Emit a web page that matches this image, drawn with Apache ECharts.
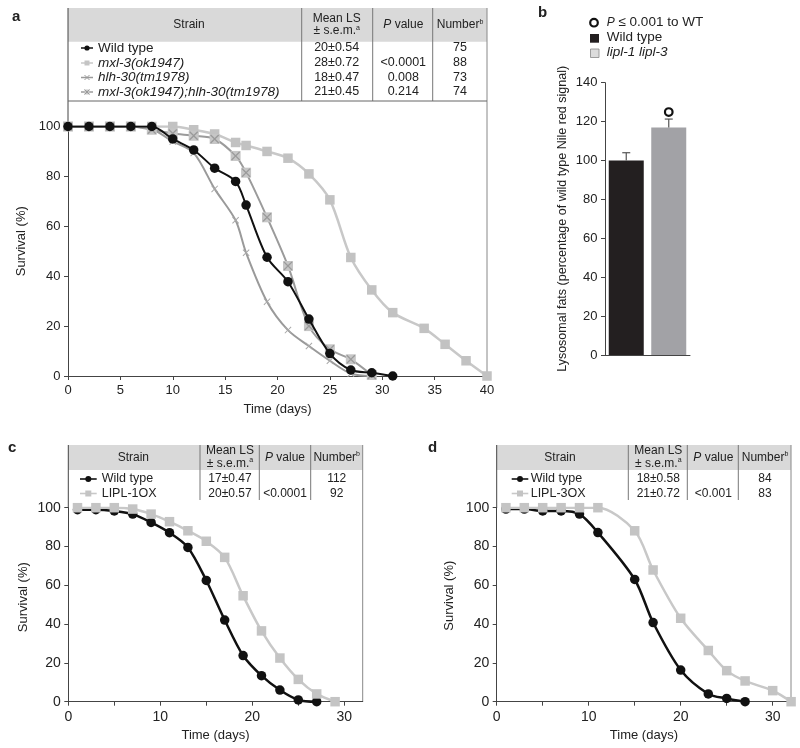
<!DOCTYPE html>
<html><head><meta charset="utf-8">
<script src="https://cdn.jsdelivr.net/npm/echarts@6/dist/echarts.min.js"></script>
<style>html,body{margin:0;padding:0;background:#fff}#c{width:800px;height:748px}</style>
</head><body><div id="c"></div>
<script>
// ---------- DATA ----------
// Panel a
const aDaysWT  = [0,2,4,6,8,10,12,14,16,17,19,21,23,25,27,29,31];
const aWT      = [100,100,100,100,100,95,90.6,83.3,78,68.5,47.6,37.8,22.8,9,2.4,1.3,0];
const aDaysMxl = [0,2,4,6,8,10,12,14,16,17,19,21,23,25,27,29,31,34,36,38,40];
const aMxl     = [100,100,100,100,100,100,98.7,97,93.6,92.4,90,87.3,81,70.6,47.5,34.5,25.4,19.1,12.7,6.1,0];
const aDaysHlh = [0,2,4,6,8,10,12,14,16,17,19,21,23,25,27,29];
const aHlh     = [100,100,100,100,99,94,89.4,75,62.4,49.4,29.8,18.4,12,6.1,1,0];
const aDaysDbl = [0,2,4,6,8,10,12,14,16,17,19,21,23,25,27,29];
const aDbl     = [100,100,100,100,98.7,97.2,96.3,95,88.2,81.5,63.6,44.1,20,10.7,6.7,0.4];
const aXTicks  = [0,5,10,15,20,25,30,35,40];
const aYTicks  = [0,20,40,60,80,100];
const aTableRows = [
  ['Wild type','20±0.54','','75'],
  ['mxl-3(ok1947)','28±0.72','<0.0001','88'],
  ['hlh-30(tm1978)','18±0.47','0.008','73'],
  ['mxl-3(ok1947);hlh-30(tm1978)','21±0.45','0.214','74']
];
// Panel b
const bCats = ['Wild type','lipl-1 lipl-3'];
const bVals = [100,117];
const bErr  = [4,4.3];
const bSig  = [false,true];
const bYTicks = [0,20,40,60,80,100,120,140];
// Panel c
const cDaysWT = [1,3,5,7,9,11,13,15,17,19,21,23,25,27];
const cWT     = [99,99,98.3,96.7,92.4,87.1,79.5,62.5,42.1,23.8,13.4,6,0.9,0];
const cDaysOX = [1,3,5,7,9,11,13,15,17,19,21,23,25,27,29];
const cOX     = [100,100,100,99.3,96.7,92.8,88.1,82.7,74.4,54.6,36.5,22.5,11.5,4,0];
const cTableRows = [['Wild type','17±0.47','','112'],['LIPL-1OX','20±0.57','<0.0001','92']];
// Panel d
const dDaysWT = [1,3,5,7,9,11,15,17,20,23,25,27];
const dWT     = [99.3,99.3,98.3,98.3,96.7,87.2,63,40.8,16.3,4,1.7,0];
const dDaysOX = [1,3,5,7,9,11,15,17,20,23,25,27,30,32];
const dOX     = [100,100,100,100,100,100,88.1,67.9,43,26.4,16,10.7,5.7,0];
const dTableRows = [['Wild type','18±0.58','','84'],['LIPL-3OX','21±0.72','<0.001','83']];
const cdXTicks  = [0,5,10,15,20,25,30];
const cdXLabels = [0,10,20,30];
const cdYTicks  = [0,20,40,60,80,100];

// ---------- STYLE ----------
const FONT = '"Liberation Sans", Arial, Helvetica, sans-serif';
const TXT = '#222';
const AX = '#444';
const XPATH = 'path://M0,1 L1,0 L5,4 L9,0 L10,1 L6,5 L10,9 L9,10 L5,6 L1,10 L0,9 L4,5 Z';
const zip = (xs, ys) => xs.map((x,i)=>[x, ys[i]]);

// ---------- GRAPHIC (tables, legends, labels) ----------
const G = [];
function gLine(x1,y1,x2,y2,c,w){G.push({type:'line',silent:true,shape:{x1,y1,x2,y2},style:{stroke:c||'#777',lineWidth:w||1}});}
function gRect(x,y,w,h,fill,stroke,lw){G.push({type:'rect',silent:true,shape:{x,y,width:w,height:h},style:{fill:fill,stroke:stroke||null,lineWidth:lw||1}});}
function gCircle(cx,cy,r,fill,stroke,lw){G.push({type:'circle',silent:true,shape:{cx,cy,r},style:{fill:fill,stroke:stroke||null,lineWidth:lw||1}});}
function gX(cx,cy,s,c,lw){gLine(cx-s,cy-s,cx+s,cy+s,c,lw);gLine(cx-s,cy+s,cx+s,cy-s,c,lw);}
const RICH = {
  i:{fontStyle:'italic',fontFamily:FONT,fill:TXT},
  sup:{fontSize:7,fontFamily:FONT,fill:TXT,padding:[0,0,6,0]}
};
function gText(x,y,t,size,opts){
  G.push({type:'text',silent:true,x,y,style:Object.assign({text:t,fontSize:size||12,fontFamily:FONT,fill:TXT,align:'center',verticalAlign:'middle',rich:RICH},opts||{})});
}

function table(cfg){
  const {x0,x1,yTop,yHead,yEnd,cols,centers,rows,rowY,fs,rowFs,numFs,glyph,italicRows,bottomLine} = cfg;
  gRect(x0,yTop,x1-x0,yHead-yTop,'#d9d9d9');
  cols.forEach(cx=>gLine(cx,yTop,cx,yEnd,'#777',1));
  gLine(x0,yTop,x0,cfg.leftEnd,AX,1);
  gLine(x1,yTop,x1,cfg.rightEnd,'#888',1);
  if(bottomLine) gLine(x0,yEnd,x1,yEnd,'#666',1);
  const hm = (yTop+yHead)/2;
  gText(centers[0],hm,'Strain',fs);
  gText(centers[1],hm-6.5,'Mean LS',fs);
  gText(centers[1],hm+6,'± s.e.m.{sup|a}',fs);
  gText(centers[2],hm,'{i|P} value',fs);
  gText(centers[3],hm,'Number{sup|b}',fs);
  rows.forEach((r,i)=>{
    const y=rowY[i];
    glyph(i,y);
    gText(cfg.nameX,y,r[0],rowFs,{align:'left',fontStyle:(italicRows&&italicRows[i])?'italic':'normal'});
    gText(centers[1],y,r[1],numFs);
    if(r[2]) gText(centers[2],y,r[2],numFs);
    gText(centers[3],y,r[3],numFs);
  });
}

// Panel a table
table({x0:68,x1:487,yTop:8,yHead:41.7,yEnd:101,leftEnd:127,rightEnd:376,cols:[301.7,372.7,432.7],
  centers:[189,336.7,403.3,460],rows:aTableRows,rowY:[48,63,77.5,92],fs:12,rowFs:13.5,numFs:12.5,
  nameX:98,italicRows:[false,true,true,true],bottomLine:true,
  glyph:(i,y)=>{
    if(i===0){gLine(81,y,93,y,'#111',1.5);gCircle(87,y,2.6,'#111');}
    if(i===1){gLine(81,y,93,y,'#c8c8c8',1.5);gRect(84.5,y-2.5,5,5,'#c4c4c4');}
    if(i===2){gLine(81,y,93,y,'#9a9a9a',1.5);gX(87,y,2.5,'#9a9a9a',1);}
    if(i===3){gLine(81,y,93,y,'#9b9b9b',1.5);gRect(84.5,y-2.5,5,5,'#c8c8c8');gX(87,y,2.5,'#999',1);}
  }});
// Panel c table
table({x0:68.3,x1:362.7,yTop:445,yHead:470,yEnd:500,leftEnd:508,rightEnd:701.7,cols:[200,259.3,310.7],
  centers:[133.3,230,285,336.7],rows:cTableRows,rowY:[479,493.5],fs:12,rowFs:12.5,numFs:12,
  nameX:101.7,bottomLine:false,
  glyph:(i,y)=>{
    if(i===0){gLine(80,y,96.7,y,'#111',1.6);gCircle(88.3,y,3,'#111');}
    else {gLine(80,y,96.7,y,'#c8c8c8',1.6);gRect(85.3,y-3,6,6,'#c4c4c4');}
  }});
// Panel d table
table({x0:496.7,x1:791,yTop:445,yHead:470,yEnd:500,leftEnd:508,rightEnd:701.7,cols:[628.3,687.3,738.3],
  centers:[560,658.3,713.3,765],rows:dTableRows,rowY:[479,493.5],fs:12,rowFs:12.5,numFs:12,
  nameX:530.7,bottomLine:false,
  glyph:(i,y)=>{
    if(i===0){gLine(511.7,y,528.3,y,'#111',1.6);gCircle(520,y,3,'#111');}
    else {gLine(511.7,y,528.3,y,'#c8c8c8',1.6);gRect(517,y-3,6,6,'#c4c4c4');}
  }});

// Panel b legend
gCircle(594,22.7,3.8,'#fff','#111',2.2);
gText(606.7,22.7,'{i|P} ≤ 0.001 to WT',13.5,{align:'left'});
gRect(590,34,9,8.7,'#231f20');
gText(606.7,37.7,'Wild type',13.5,{align:'left'});
gRect(590.5,49,8.5,8.5,'#dcdcdc','#888',0.8);
gText(606.7,52.3,'lipl-1 lipl-3',13.5,{align:'left',fontStyle:'italic'});

// Panel letters
gText(12,17,'a',15,{align:'left',fontWeight:'bold'});
gText(538,12.5,'b',15,{align:'left',fontWeight:'bold'});
gText(8,448,'c',15,{align:'left',fontWeight:'bold'});
gText(428,448,'d',15,{align:'left',fontWeight:'bold'});

// ---------- AXES ----------
function valX(grid,min,max,ticks,labels,fs,name){
  return {gridIndex:grid,type:'value',min,max,
    axisLine:{lineStyle:{color:AX,width:1}},
    axisTick:{length:4,lineStyle:{color:AX},customValues:ticks},
    axisLabel:{fontSize:fs,color:TXT,margin:8,fontFamily:FONT,customValues:labels},
    splitLine:{show:false},
    name,nameLocation:'middle',nameGap:27,nameTextStyle:{fontSize:13,color:TXT,fontFamily:FONT}};
}
function valY(grid,min,max,ticks,fs,name,gap,shift,nfs){
  return {gridIndex:grid,type:'value',min,max,
    axisLine:{show:true,lineStyle:{color:AX,width:1}},
    axisTick:{show:true,length:4,lineStyle:{color:AX},customValues:ticks},
    axisLabel:{fontSize:fs,color:TXT,margin:7.5,fontFamily:FONT,customValues:ticks},
    splitLine:{show:false},
    name,nameLocation:'middle',nameGap:gap,
    nameTextStyle:{fontSize:nfs||13,color:TXT,fontFamily:FONT,padding:[0,0,0,shift||0]}};
}

// ---------- SERIES ----------
function lineS(grid,data,color,lw,symbol,size,symColor,z){
  return {type:'line',xAxisIndex:grid,yAxisIndex:grid,data,smooth:0.3,showSymbol:true,
    symbol,symbolSize:size,lineStyle:{color,width:lw},itemStyle:{color:symColor||color},z:z||2};
}

const option = {
  animation:false,
  backgroundColor:'#fff',
  textStyle:{fontFamily:FONT},
  grid:[
    {left:68,top:126.5,width:419,height:249.5},
    {left:605,top:82.7,width:85,height:272.3},
    {left:68.3,top:507.7,width:294.4,height:194},
    {left:496.7,top:507.7,width:294.4,height:194}
  ],
  xAxis:[
    valX(0,0,40,aXTicks,aXTicks,13,'Time (days)'),
    {gridIndex:1,type:'category',data:bCats,axisLine:{lineStyle:{color:AX}},axisTick:{show:false},axisLabel:{show:false}},
    valX(2,0,32,cdXTicks,cdXLabels,14,'Time (days)'),
    valX(3,0,32,cdXTicks,cdXLabels,14,'Time (days)')
  ],
  yAxis:[
    valY(0,0,100,aYTicks,13,'Survival (%)',35,20),
    valY(1,0,140,bYTicks,13,'Lysosomal fats (percentage of wild type Nile red signal)',36,0,12.5),
    valY(2,0,100,cdYTicks,14,'Survival (%)',38,15),
    valY(3,0,100,cdYTicks,14,'Survival (%)',41,18)
  ],
  series:[
    // Panel a
    lineS(0,zip(aDaysMxl,aMxl),'#c8c8c8',2.5,'rect',9.5,'#c2c2c2',2),
    lineS(0,zip(aDaysHlh,aHlh),'#9a9a9a',2,XPATH,7,'#a8a8a8',3),
    lineS(0,zip(aDaysDbl,aDbl),'#9b9b9b',2,'rect',10,'#c6c6c6',4),
    {type:'scatter',xAxisIndex:0,yAxisIndex:0,data:zip(aDaysDbl,aDbl),symbol:XPATH,symbolSize:9,itemStyle:{color:'#8e8e8e'},z:5},
    lineS(0,zip(aDaysWT,aWT),'#111',2,'circle',9.5,'#111',6),
    // Panel b
    {type:'bar',xAxisIndex:1,yAxisIndex:1,barWidth:35,
      data:bVals.map((v,i)=>({value:v,itemStyle:{color:i===0?'#231f20':'#a2a2a6'}}))},
    {type:'custom',xAxisIndex:1,yAxisIndex:1,z:10,
      data:bVals.map((v,i)=>[i,v,bErr[i],bSig[i]?1:0]),
      renderItem:function(params,api){
        const i=api.value(0),v=api.value(1),e=api.value(2),sig=api.value(3);
        const base=api.coord([i,v]), top=api.coord([i,v+e]);
        const ch=[
          {type:'line',shape:{x1:base[0],y1:base[1],x2:top[0],y2:top[1]},style:{stroke:'#555',lineWidth:1.2}},
          {type:'line',shape:{x1:top[0]-4,y1:top[1],x2:top[0]+4,y2:top[1]},style:{stroke:'#555',lineWidth:1.2}}
        ];
        if(sig) ch.push({type:'circle',shape:{cx:top[0],cy:top[1]-7,r:3.8},style:{fill:'#fff',stroke:'#111',lineWidth:2.2}});
        return {type:'group',children:ch};
      }},
    // Panel c
    lineS(2,zip(cDaysWT,cWT),'#111',2.5,'circle',9.5,'#111',2),
    lineS(2,zip(cDaysOX,cOX),'#c8c8c8',2.5,'rect',9.5,'#c4c4c4',3),
    // Panel d
    lineS(3,zip(dDaysWT,dWT),'#111',2.5,'circle',9.5,'#111',2),
    lineS(3,zip(dDaysOX,dOX),'#c8c8c8',2.5,'rect',9.5,'#c4c4c4',3)
  ],
  graphic:G
};
const chart = echarts.init(document.getElementById('c'),null,{renderer:'canvas'});
chart.setOption(option);
</script>
</body></html>
